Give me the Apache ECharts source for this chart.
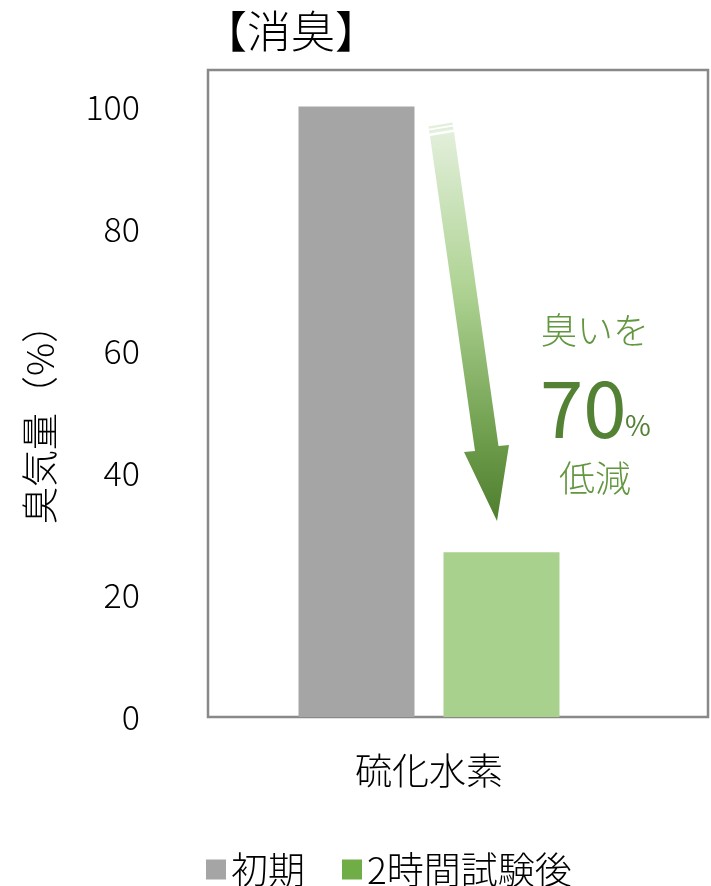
<!DOCTYPE html>
<html>
<head>
<meta charset="utf-8">
<script src="https://cdn.jsdelivr.net/npm/echarts@6/dist/echarts.min.js"></script>
<style>
html,body{margin:0;padding:0;background:#fff;}
#c{width:711px;height:886px;}
</style>
</head>
<body>
<div id="c"></div>
<script>
const categories = ['硫化水素'];
const seriesNames = ['初期', '2時間試験後'];
const initialValues = [100];
const afterValues = [27];
const yTicks = [0, 20, 40, 60, 80, 100];
const titleText = '【消臭】';
const yAxisName = '臭気量（%）';
const noteLines = ['臭いを', '70', '%', '低減'];

const FONT = '"Noto Sans CJK JP", "Noto Sans", sans-serif';
const chart = echarts.init(document.getElementById('c'));

const arrowColor = {
  type: 'linear', x: 0, y: 0, x2: 0, y2: 1,
  colorStops: [
    { offset: 0, color: '#E2EFDA' },
    { offset: 0.4, color: '#AFD394' },
    { offset: 0.8, color: '#6C9C4A' },
    { offset: 1, color: '#4E7E2E' }
  ]
};

const option = {
  animation: false,
  backgroundColor: '#ffffff',
  title: {
    text: titleText,
    left: 198, top: 4,
    textStyle: { fontFamily: FONT, fontSize: 44, fontWeight: 300, color: '#000' }
  },
  legend: {
    data: [
      { name: seriesNames[0], itemStyle: { color: '#A5A5A5' } },
      { name: seriesNames[1], itemStyle: { color: '#70AD47' } }
    ],
    left: 201, top: 846,
    icon: 'rect',
    itemWidth: 20, itemHeight: 20, itemGap: 37,
    textStyle: { fontFamily: FONT, fontSize: 37, fontWeight: 300, color: '#000' }
  },
  grid: [
    { left: 208, right: 3, top: 70, bottom: 169, show: true, borderColor: '#898989', borderWidth: 2.5, backgroundColor: 'transparent' },
    { left: 208, width: 442, top: 70, bottom: 169, show: false }
  ],
  xAxis: [
    { gridIndex: 0, type: 'value', show: false, min: 0, max: 1 },
    {
      gridIndex: 1, type: 'category', data: categories,
      axisLine: { show: false }, axisTick: { show: false }, splitLine: { show: false },
      axisLabel: { margin: 35, fontFamily: FONT, fontSize: 37, fontWeight: 300, color: '#000' }
    }
  ],
  yAxis: [
    {
      gridIndex: 0, type: 'value', min: 0, max: 106, interval: 20,
      axisLine: { show: false }, axisTick: { show: false }, splitLine: { show: false },
      axisLabel: {
        margin: 68, fontFamily: FONT, fontSize: 34, fontWeight: 300, color: '#000',
        formatter: v => (yTicks.indexOf(v) >= 0 ? String(v) : '')
      }
    },
    { gridIndex: 1, type: 'value', min: 0, max: 106, show: false }
  ],
  series: [
    {
      name: seriesNames[0], type: 'bar', xAxisIndex: 1, yAxisIndex: 1,
      data: initialValues, barWidth: 116, barGap: '25%',
      itemStyle: { color: '#A5A5A5' }
    },
    {
      name: seriesNames[1], type: 'bar', xAxisIndex: 1, yAxisIndex: 1,
      data: afterValues, barWidth: 116, barGap: '25%',
      itemStyle: { color: '#A9D18E' }
    }
  ],
  graphic: [
    {
      type: 'text', x: 40, y: 415, rotation: Math.PI / 2, silent: true,
      style: { text: yAxisName, font: '300 37px ' + FONT, fill: '#000', align: 'center', verticalAlign: 'middle' }
    },
    {
      type: 'polygon', silent: true,
      shape: { points: [[430, 136], [454, 132], [498.5, 446], [509, 445], [497, 521], [464, 452], [475, 451]] },
      style: { fill: arrowColor }
    },
    {
      type: 'polygon', silent: true,
      shape: { points: [[429, 130.5], [453, 126.5], [453.4, 129.5], [429.4, 133.5]] },
      style: { fill: '#E2EFDA' }
    },
    {
      type: 'polygon', silent: true,
      shape: { points: [[428.5, 126.5], [452.5, 122.5], [452.8, 124.8], [428.8, 128.8]] },
      style: { fill: '#E2EFDA' }
    },
    {
      type: 'text', left: 541, top: 312, silent: true,
      style: { text: noteLines[0], font: '300 36px ' + FONT, fill: '#62963F' }
    },
    {
      type: 'text', left: 540, top: 369, silent: true,
      style: { text: noteLines[1], font: '78px ' + FONT, fill: '#548235' }
    },
    {
      type: 'text', left: 625, top: 411, silent: true,
      style: { text: noteLines[2], font: '28px ' + FONT, fill: '#548235' }
    },
    {
      type: 'text', left: 559, top: 460, silent: true,
      style: { text: noteLines[3], font: '300 36px ' + FONT, fill: '#62963F' }
    }
  ]
};
chart.setOption(option);
</script>
</body>
</html>
